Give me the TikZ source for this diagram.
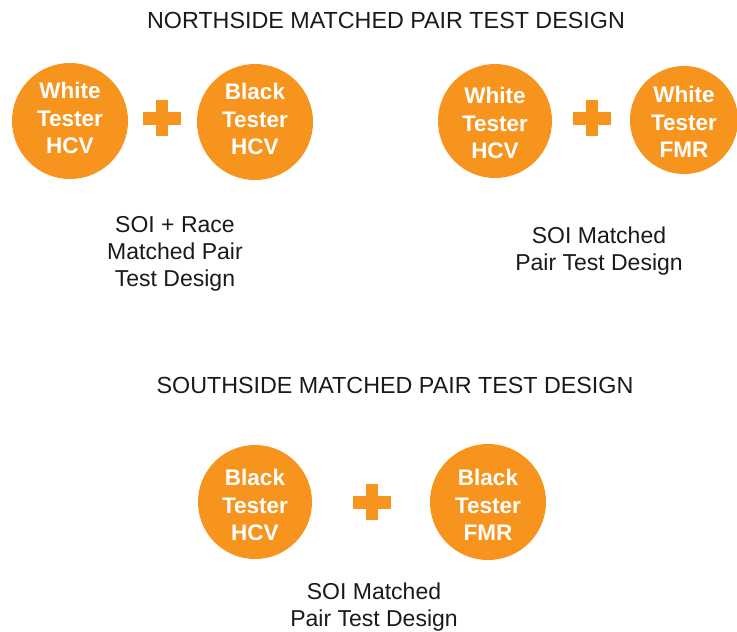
\documentclass[tikz,border=0pt]{standalone}
\usepackage{fontspec}
\setmainfont{Liberation Sans}
\definecolor{tangerine}{HTML}{F7941D}
\definecolor{ink}{HTML}{1A1A1A}
\begin{document}
\begin{tikzpicture}[x=1pt,y=-1pt,
  tester/.style={circle,fill=tangerine,draw=none,minimum size=#1,inner sep=0pt},
  tlabel/.style={text=white,align=center,font=\fontsize{22.5}{27.5}\selectfont\bfseries},
  caption/.style={text=ink,align=center,font=\fontsize{23}{27}\selectfont},
  heading/.style={text=ink,font=\fontsize{23.3}{27}\selectfont},
  plusarm/.style={fill=tangerine,draw=none,inner sep=0pt}]
\useasboundingbox (0,0) rectangle (737,632);
% headings
\node[heading] (hn) at (386,20) {NORTHSIDE MATCHED PAIR TEST DESIGN};
\node[heading] (hs) at (395,385) {SOUTHSIDE MATCHED PAIR TEST DESIGN};
% circles
\node[tester=116pt] (c1) at (70,121) {};
\node[tester=116pt] (c2) at (255,122) {};
\node[tester=114pt] (c3) at (495,121) {};
\node[tester=108pt] (c4) at (684,120) {};
\node[tester=114pt] (c5) at (255,502) {};
\node[tester=116pt] (c6) at (488,502) {};
\node[tlabel] (t1) at ([yshift=3pt]c1.center) {White\\Tester\\HCV};
\node[tlabel] (t2) at ([yshift=3pt]c2.center) {Black\\Tester\\HCV};
\node[tlabel] (t3) at ([yshift=-2pt]c3.center) {White\\Tester\\HCV};
\node[tlabel] (t4) at ([yshift=-2pt]c4.center) {White\\Tester\\FMR};
\node[tlabel] (t5) at ([yshift=-3pt]c5.center) {Black\\Tester\\HCV};
\node[tlabel] (t6) at ([yshift=-3pt]c6.center) {Black\\Tester\\FMR};
% plus signs
\foreach \n/\px/\py in {p1/162/118, p2/592/118, p3/372/502}{
  \node[plusarm,minimum width=38pt,minimum height=13pt] (\n h) at (\px,\py) {};
  \node[plusarm,minimum width=12pt,minimum height=36pt] (\n v) at (\px,\py) {};
}
% captions
\node[caption] (s1) at (175,254) {SOI + Race\\Matched Pair\\Test Design};
\node[caption] (s2) at (599,251) {SOI Matched\\Pair Test Design};
\node[caption] (s3) at (374,607) {SOI Matched\\Pair Test Design};
\end{tikzpicture}
\end{document}
